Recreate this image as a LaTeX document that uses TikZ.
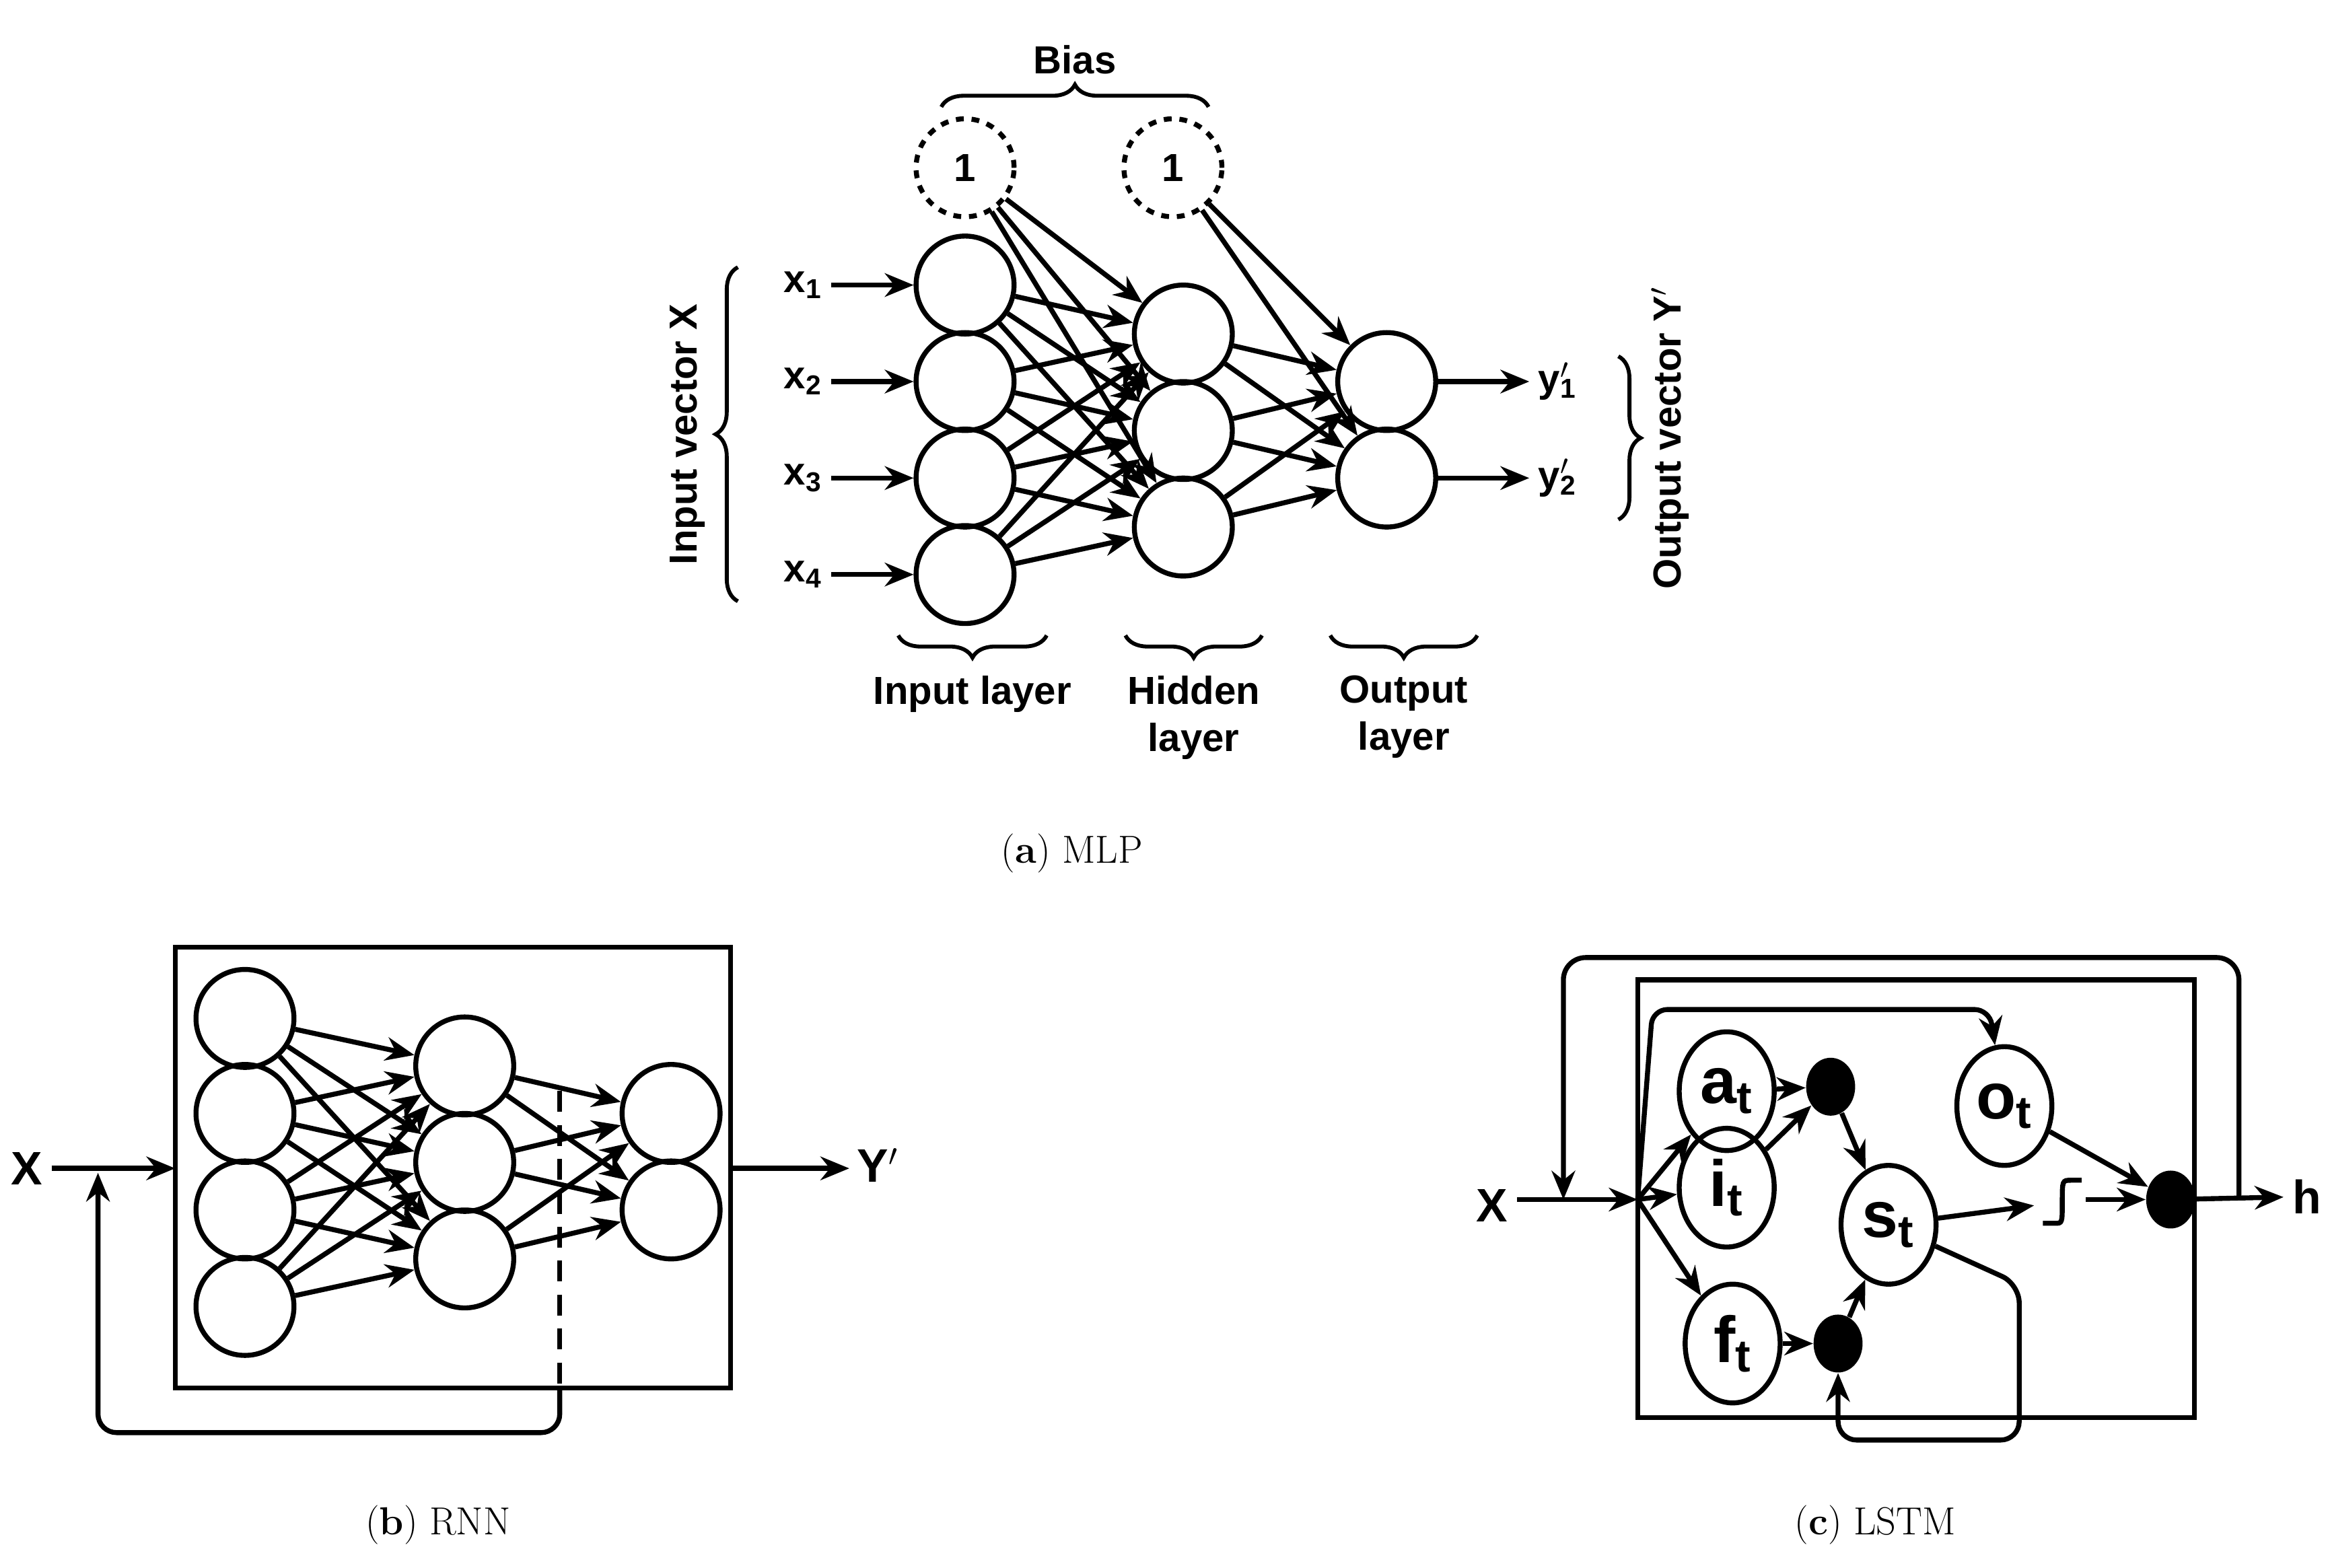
\documentclass[tikz,border=0pt]{standalone}
\usepackage{fontspec}
\newfontfamily\sansbf{Liberation Sans}[BoldFont={Liberation Sans Bold}]
\usetikzlibrary{arrows.meta,shapes.geometric,decorations.pathreplacing}
\begin{document}
\begin{tikzpicture}[x=0.02cm,y=-0.02cm]
   \tikzstyle{neuron}=[circle,draw,line width=1.9pt,minimum size=1.32cm,inner sep=0pt]
   \tikzstyle{bias}=[neuron,dashed]
   \tikzstyle{gate}=[ellipse,draw,line width=1.9pt,minimum width=1.28cm,minimum height=1.6cm,inner sep=0pt,font=\sansbf\bfseries\fontsize{25}{27}\selectfont]
   \tikzstyle{dot}=[ellipse,fill,minimum width=0.66cm,minimum height=0.78cm,inner sep=0pt]
   \tikzstyle{arrow}=[line width=1.9pt,draw,-{Stealth[length=11pt,width=9pt]}]
   \tikzstyle{line}=[line width=1.9pt,draw]
   \tikzstyle{brace}=[line width=1.5pt,decorate,decoration={brace,amplitude=0.3cm}]
   \tikzstyle{lbl}=[font=\sansbf\bfseries\fontsize{15}{18}\selectfont]
   \tikzstyle{big}=[font=\sansbf\bfseries\fontsize{18}{20}\selectfont]
   \tikzstyle{caption}=[font=\fontsize{15}{18}\selectfont]
   \useasboundingbox (0,0) rectangle (1568,1056);
   % (a) MLP
   \node (b1) [bias] at (650,113) {\sansbf\bfseries\fontsize{15}{18}\selectfont 1};
   \node (b2) [bias] at (790,113) {\sansbf\bfseries\fontsize{15}{18}\selectfont 1};
   \foreach \i/\y in {1/192,2/257,3/322,4/387}
      \node (in\i) [neuron] at (650,\y) {};
   \foreach \i/\y in {1/225,2/290,3/355}
      \node (hid\i) [neuron] at (797,\y) {};
   \foreach \i/\y in {1/257,2/322}
      \node (out\i) [neuron] at (934,\y) {};
   \foreach \i in {1,...,4}
      \foreach \j in {1,2,3}
         \path [arrow] (in\i) -- (hid\j) ;
   \foreach \j in {1,2,3}
      \path [arrow] (b1) -- (hid\j) ;
   \foreach \i in {1,2,3}
      \foreach \j in {1,2}
         \path [arrow] (hid\i) -- (out\j) ;
   \foreach \j in {1,2}
      \path [arrow] (b2) -- (out\j) ;
   \foreach \i/\y in {1/192,2/257,3/322,4/387} {
      \node (x\i) [lbl,anchor=east] at (560,\y) {x\textsubscript{\i}};
      \path [arrow] (x\i) -- (in\i) ;
   }
   \foreach \i/\y in {1/257,2/322} {
      \node (y\i) [lbl,anchor=west] at (1030,\y) {y\rlap{$'$}\textsubscript{\i}};
      \path [arrow] (out\i) -- (y\i) ;
   }
   \draw [brace] (634,72) -- (814,72) node (biasl) [lbl,midway,above=0.3cm] {Bias};
   \draw [brace] (497,405) -- (497,180) node (inv) [lbl,midway,left=0.3cm,rotate=90,anchor=south] {Input vector X};
   \draw [brace] (1090,240) -- (1090,350) node (outv) [lbl,midway,right=0.3cm,rotate=90,anchor=north] {Output vector Y$'$};
   \draw [brace] (705,428) -- (605,428) node (inl) [lbl,midway,below=0.4cm] {Input layer};
   \draw [brace] (850,428) -- (758,428) node (hidl) [lbl,midway,below=0.4cm,align=center] {Hidden\\layer};
   \draw [brace] (995,428) -- (896,428) node (outl) [lbl,midway,below=0.4cm,align=center] {Output\\layer};
   \node (capa) [caption] at (722,575) {(\textbf{a}) MLP};
   % (b) RNN
   \node (rbox) [draw,line width=1.9pt,minimum width=7.48cm,minimum height=5.94cm] at (305,786.5) {};
   \foreach \i/\y in {1/686,2/750,3/815,4/880}
      \node (ri\i) [neuron] at (165,\y) {};
   \foreach \i/\y in {1/718,2/783,3/848}
      \node (rh\i) [neuron] at (313,\y) {};
   \foreach \i/\y in {1/750,2/815}
      \node (ro\i) [neuron] at (452,\y) {};
   \foreach \i in {1,...,4}
      \foreach \j in {1,2,3}
         \path [arrow] (ri\i) -- (rh\j) ;
   \foreach \i in {1,2,3}
      \foreach \j in {1,2}
         \path [arrow] (rh\i) -- (ro\j) ;
   \node (rx) [big] at (18,787) {X};
   \node (ry) [big] at (588,785) {Y\rlap{$'$}};
   \coordinate (rin) at (118,787);
   \coordinate (rout) at (572,787);
   \coordinate (rfb) at (66,790);
   \path [arrow] (rx) -- (rin) ;
   \path [arrow] (rbox.east |- rin) -- (rout) ;
   \draw [line,dashed,dash pattern=on 8pt off 5pt] (377,735) -- (377,935);
   \path [arrow,rounded corners=0.25cm] (377,935) -- (377,965) -- (66,965) -- (rfb) ;
   \node (capb) [caption] at (295,1027) {(\textbf{b}) RNN};
   % (c) LSTM
   \draw [line] (1103,660) rectangle (1478,955);
   \node (at) [gate] at (1163,735) {a\textsubscript{t}};
   \node (it) [gate] at (1163,800) {i\textsubscript{t}};
   \node (ft) [gate] at (1167,905) {f\textsubscript{t}};
   \node (ot) [gate] at (1350,745) {o\textsubscript{t}};
   \node (st) [gate] at (1272,825) {s\textsubscript{t}};
   \node (d1) [dot] at (1233,732) {};
   \node (d2) [dot] at (1238,905) {};
   \node (d3) [dot] at (1462,808) {};
   \node (lx) [big] at (1005,812) {X};
   \node (lh) [big,anchor=west] at (1538,806) {h};
   \coordinate (hub) at (1103,808);
   \coordinate (tap) at (1508,808);
   \coordinate (fb) at (1053,808);
   \path [arrow] (lx.east |- hub) -- (hub) ;
   \path [arrow] (hub) -- (at) ;
   \path [arrow] (hub) -- (it) ;
   \path [arrow] (hub) -- (ft) ;
   \path [arrow,rounded corners=0.2cm] (hub) -- (1113,680) -- (1340,680) -- (ot) ;
   \path [arrow] (at) -- (d1) ;
   \path [arrow] (it) -- (d1) ;
   \path [arrow] (d1) -- (st) ;
   \path [arrow] (ft) -- (d2) ;
   \path [arrow] (d2) -- (st) ;
   \path [arrow] (st) -- (1370,812) ;
   \draw [line] (1376,824) -- (1384,824) .. controls (1389,824) .. (1389,810) .. controls (1389,795) .. (1395,795) -- (1402,795);
   \path [arrow] (1405,808) -- (d3) ;
   \path [arrow] (ot) -- (d3) ;
   \path [arrow] (d3) -- (lh) ;
   \path [arrow,rounded corners=0.25cm] (st) -- (1360,865) -- (1360,970) -- (1238,970) -- (d2) ;
   \path [arrow,rounded corners=0.3cm] (tap) -- (1508,645) -- (1053,645) -- (fb) ;
   \node (capc) [caption] at (1263,1027) {(\textbf{c}) LSTM};
\end{tikzpicture}
\end{document}
